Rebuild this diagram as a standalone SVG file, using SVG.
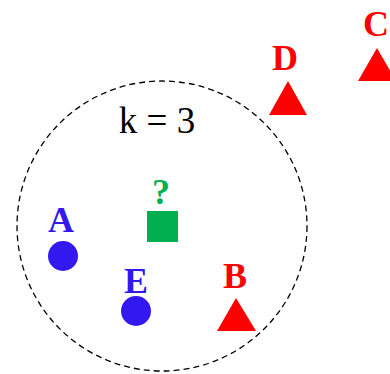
<svg xmlns="http://www.w3.org/2000/svg" width="390" height="374" viewBox="0 0 390 374">
<style>
.lbl{font-weight:bold;font-size:36px;text-anchor:middle}
.blue{fill:#3318F0}
.red{fill:#FF0000}
.green{fill:#00B050}
</style>
<rect width="390" height="374" fill="#fff"/>
<g font-family="Liberation Serif, serif">
<g id="radius">
<circle cx="162" cy="226" r="145" fill="none" stroke="#000" stroke-width="1.3" stroke-dasharray="6,4"/>
<text x="157" y="133" font-size="37" text-anchor="middle" fill="#000">k = 3</text>
</g>
<g id="query">
<rect x="147" y="211" width="31" height="31" class="green"/>
<text x="161" y="204" class="lbl green">?</text>
</g>
<g id="A">
<circle cx="63" cy="256" r="15" class="blue"/>
<text x="61" y="232" class="lbl blue">A</text>
</g>
<g id="E">
<circle cx="136" cy="311" r="15" class="blue"/>
<text x="136" y="293" class="lbl blue">E</text>
</g>
<g id="B">
<polygon points="236,298 256,331 217,331" class="red"/>
<text x="235" y="288" class="lbl red">B</text>
</g>
<g id="D">
<polygon points="288,81 307,115 269,115" class="red"/>
<text x="285" y="70" class="lbl red">D</text>
</g>
<g id="C">
<polygon points="377,48 396,81 358,81" class="red"/>
<text x="376" y="36" class="lbl red">C</text>
</g>
</g>
<g id="connectors"/>
</svg>
